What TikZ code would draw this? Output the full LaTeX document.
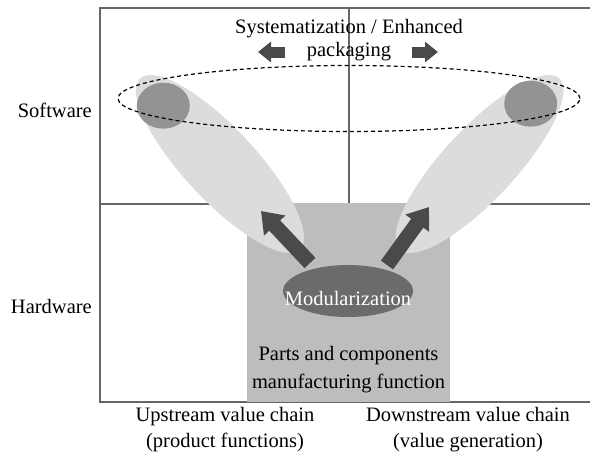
\documentclass[tikz,border=0pt]{standalone}
\usepackage{fontspec}
\setmainfont{Liberation Serif}
\usetikzlibrary{shapes.geometric,arrows.meta}

\definecolor{framegray}{HTML}{666666}
\definecolor{lightblob}{HTML}{DCDCDE}
\definecolor{darkblob}{HTML}{939396}
\definecolor{boxgray}{HTML}{BDBDBF}
\definecolor{modgray}{HTML}{6B6B6E}
\definecolor{arrowgray}{HTML}{4A4A4C}

\tikzset{
  frameline/.style={draw=framegray, line width=1.3pt},
  label/.style={font=\fontsize{20.5}{23}\selectfont, inner sep=0pt, anchor=base},
  sidelabel/.style={label, anchor=base east},
  blob/.style={ellipse, fill=lightblob, inner sep=0pt, minimum width=234pt, minimum height=72pt},
  spot/.style={ellipse, fill=darkblob, inner sep=0pt, minimum width=53pt, minimum height=46pt},
  bigarrow/.style={draw=arrowgray, line width=15pt, -{Triangle[length=20pt,width=28pt]}, arrowgray},
  smallarrow/.style={draw=arrowgray, line width=11pt, -{Triangle[length=13pt,width=20pt]}, arrowgray},
}

\begin{document}
\begin{tikzpicture}[x=1pt, y=-1pt]
  \useasboundingbox (0,0) rectangle (590,458);

  % quadrant frame (open on the right)
  \draw[frameline] (590,8) -- (100,8) -- (100,402) -- (590,402);
  \draw[frameline] (100,204) -- (590,204);
  \draw[frameline] (349,8) -- (349,204);

  % manufacturing block
  \node[rectangle, fill=boxgray, inner sep=0pt, minimum width=203pt, minimum height=199pt]
    (mfg) at (348.5,302.5) {};

  % software reach of each value chain
  \node[blob, rotate=-47] (upblob) at (220,164) {};
  \node[blob, rotate=47] (downblob) at (479.5,164) {};
  \node[spot] (upspot) at (163.3,105.7) {};
  \node[spot] (downspot) at (530.7,103.7) {};

  % modularization core
  \node[ellipse, fill=modgray, inner sep=0pt, minimum width=130pt, minimum height=52pt]
    (mod) at (348,291) {};
  \node[label, text=white] (modtext) at (348,305) {Modularization};

  % block arrows out of the core
  \coordinate (upfrom) at (310,263);
  \coordinate (upto) at (261,211);
  \coordinate (downfrom) at (387,265);
  \coordinate (downto) at (429,207);
  \draw[bigarrow] (upfrom) -- (upto);
  \draw[bigarrow] (downfrom) -- (downto);

  % systematization band
  \node[ellipse, draw=black, dashed, line width=1.2pt, dash pattern=on 4pt off 3pt,
        inner sep=0pt, minimum width=462pt, minimum height=66pt] (band) at (349,98.5) {};

  \node[label] (systext) at (349,33) {Systematization / Enhanced};
  \node[label] (packtext) at (349,56) {packaging};
  \coordinate (lefttail) at (285,52);
  \coordinate (lefttip) at (258,52);
  \coordinate (righttail) at (412,52);
  \coordinate (righttip) at (438,52);
  \draw[smallarrow] (lefttail) -- (lefttip);
  \draw[smallarrow] (righttail) -- (righttip);

  % block text
  \node[label] (parts) at (348.5,360) {Parts and components};
  \node[label] (manuf) at (348.5,388) {manufacturing function};

  % axis labels
  \node[sidelabel] (sw) at (92,117) {Software};
  \node[sidelabel] (hw) at (92,313) {Hardware};
  \node[label] (up1) at (225,421) {Upstream value chain};
  \node[label] (up2) at (225,447) {(product functions)};
  \node[label] (down1) at (468,421) {Downstream value chain};
  \node[label] (down2) at (468,447) {(value generation)};
\end{tikzpicture}
\end{document}
